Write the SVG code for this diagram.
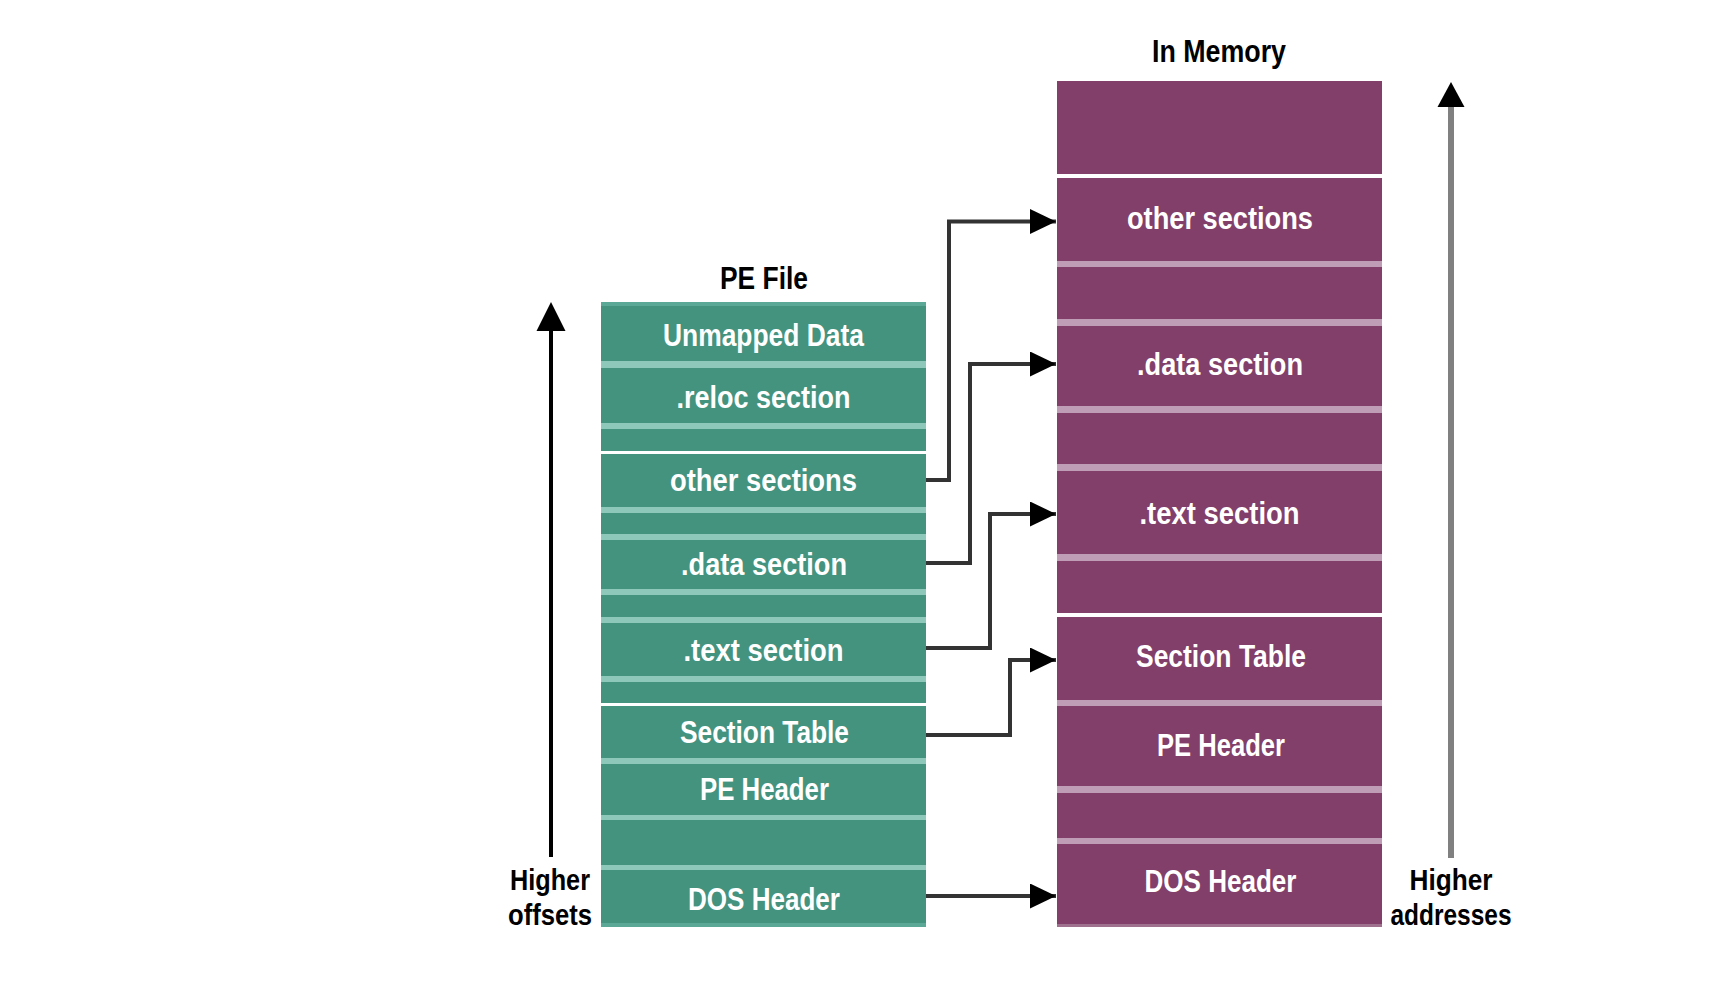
<svg xmlns="http://www.w3.org/2000/svg" width="1736" height="982" viewBox="0 0 1736 982">
<style>
.bg{fill:#ffffff}
.teal{fill:#43937f}
.tsep{fill:#8ec8ba}
.tedge{fill:#5ba896}
.purp{fill:#813f6a}
.psep{fill:#c09db7}
.pedge{fill:#a0708f}
.gap{fill:#ffffff}
.lbl{font-family:"Liberation Sans",Arial,sans-serif;font-weight:bold;font-size:31px;fill:#ffffff;text-anchor:middle}
.ttl{font-family:"Liberation Sans",Arial,sans-serif;font-weight:bold;font-size:31px;fill:#000000;text-anchor:middle}
.side{font-family:"Liberation Sans",Arial,sans-serif;font-weight:bold;font-size:30px;fill:#000000;text-anchor:middle}
.conn{fill:none;stroke:#333333;stroke-width:4;stroke-linejoin:miter}
</style>
<defs>
<marker id="ah" markerUnits="userSpaceOnUse" markerWidth="28" markerHeight="27" refX="26" refY="12.5" orient="auto" viewBox="0 0 28 27">
<path d="M0,0 L26,12.5 L0,25 z" fill="#000000"/>
</marker>
</defs>
<rect class="bg" x="0" y="0" width="1736" height="982"/>

<!-- Titles -->
<text id="title-pe" class="ttl" x="764" y="289" textLength="88" lengthAdjust="spacingAndGlyphs">PE File</text>
<text id="title-mem" class="ttl" x="1219" y="62" textLength="134" lengthAdjust="spacingAndGlyphs">In Memory</text>

<!-- PE File column -->
<g id="pe-column">
<rect class="teal" x="601" y="302" width="325" height="625"/>
<rect class="tedge" x="601" y="302" width="325" height="4"/>
<rect class="tedge" x="601" y="923" width="325" height="4"/>
<rect class="tsep" x="601" y="361" width="325" height="7"/>
<rect class="tsep" x="601" y="423" width="325" height="6"/>
<rect class="gap" x="601" y="451" width="325" height="3"/>
<rect class="tsep" x="601" y="507" width="325" height="6"/>
<rect class="tsep" x="601" y="534" width="325" height="6"/>
<rect class="tsep" x="601" y="589" width="325" height="6"/>
<rect class="tsep" x="601" y="617" width="325" height="6"/>
<rect class="tsep" x="601" y="676" width="325" height="6"/>
<rect class="gap" x="601" y="703" width="325" height="3"/>
<rect class="tsep" x="601" y="758" width="325" height="6"/>
<rect class="tsep" x="601" y="815" width="325" height="5"/>
<rect class="tsep" x="601" y="865" width="325" height="5"/>
</g>
<g id="pe-unmapped"><text class="lbl" x="763.5" y="346" textLength="201" lengthAdjust="spacingAndGlyphs">Unmapped Data</text></g>
<g id="pe-reloc"><text class="lbl" x="763.5" y="408" textLength="174" lengthAdjust="spacingAndGlyphs">.reloc section</text></g>
<g id="pe-other"><text class="lbl" x="763.5" y="491" textLength="187" lengthAdjust="spacingAndGlyphs">other sections</text></g>
<g id="pe-data"><text class="lbl" x="764" y="575" textLength="166" lengthAdjust="spacingAndGlyphs">.data section</text></g>
<g id="pe-text"><text class="lbl" x="763.5" y="661" textLength="160" lengthAdjust="spacingAndGlyphs">.text section</text></g>
<g id="pe-sectiontable"><text class="lbl" x="764.5" y="743" textLength="169" lengthAdjust="spacingAndGlyphs">Section Table</text></g>
<g id="pe-peheader"><text class="lbl" x="764.5" y="800" textLength="129" lengthAdjust="spacingAndGlyphs">PE Header</text></g>
<g id="pe-dosheader"><text class="lbl" x="764" y="910" textLength="152" lengthAdjust="spacingAndGlyphs">DOS Header</text></g>

<!-- In Memory column -->
<g id="mem-column">
<rect class="purp" x="1057" y="81" width="325" height="846"/>
<rect class="gap" x="1057" y="174" width="325" height="4"/>
<rect class="psep" x="1057" y="261" width="325" height="6"/>
<rect class="psep" x="1057" y="319" width="325" height="7"/>
<rect class="psep" x="1057" y="406" width="325" height="7"/>
<rect class="psep" x="1057" y="464" width="325" height="7"/>
<rect class="psep" x="1057" y="554" width="325" height="7"/>
<rect class="gap" x="1057" y="613" width="325" height="4"/>
<rect class="psep" x="1057" y="700" width="325" height="6"/>
<rect class="psep" x="1057" y="786" width="325" height="7"/>
<rect class="psep" x="1057" y="838" width="325" height="6"/>
<rect class="pedge" x="1057" y="924" width="325" height="3"/>
</g>
<g id="mem-other"><text class="lbl" x="1220" y="229" textLength="186" lengthAdjust="spacingAndGlyphs">other sections</text></g>
<g id="mem-data"><text class="lbl" x="1220" y="375" textLength="166" lengthAdjust="spacingAndGlyphs">.data section</text></g>
<g id="mem-text"><text class="lbl" x="1219.5" y="524" textLength="160" lengthAdjust="spacingAndGlyphs">.text section</text></g>
<g id="mem-sectiontable"><text class="lbl" x="1221" y="667" textLength="170" lengthAdjust="spacingAndGlyphs">Section Table</text></g>
<g id="mem-peheader"><text class="lbl" x="1221" y="756" textLength="128" lengthAdjust="spacingAndGlyphs">PE Header</text></g>
<g id="mem-dosheader"><text class="lbl" x="1220.5" y="892" textLength="152" lengthAdjust="spacingAndGlyphs">DOS Header</text></g>

<!-- Connectors -->
<g id="connectors">
<path class="conn" d="M926,480 H949 V221.5 H1056" marker-end="url(#ah)"/>
<path class="conn" d="M926,563 H970 V364 H1056" marker-end="url(#ah)"/>
<path class="conn" d="M926,648 H990 V514 H1056" marker-end="url(#ah)"/>
<path class="conn" d="M926,735 H1010 V660 H1056" marker-end="url(#ah)"/>
<path class="conn" d="M926,896 H1056" marker-end="url(#ah)"/>
</g>

<!-- Side arrows -->
<g id="offsets-arrow">
<line x1="551" y1="857" x2="551" y2="325" stroke="#000000" stroke-width="4"/>
<polygon points="551,302 565.5,331 536.5,331" fill="#000000"/>
<text class="side" x="550" y="890" textLength="80" lengthAdjust="spacingAndGlyphs">Higher</text>
<text class="side" x="550" y="925" textLength="84" lengthAdjust="spacingAndGlyphs">offsets</text>
</g>
<g id="addresses-arrow">
<line x1="1451" y1="858" x2="1451" y2="100" stroke="#808080" stroke-width="6"/>
<polygon points="1451,82 1464.5,107 1437.5,107" fill="#000000"/>
<text class="side" x="1451" y="890" textLength="83" lengthAdjust="spacingAndGlyphs">Higher</text>
<text class="side" x="1451" y="925" textLength="121" lengthAdjust="spacingAndGlyphs">addresses</text>
</g>
</svg>
